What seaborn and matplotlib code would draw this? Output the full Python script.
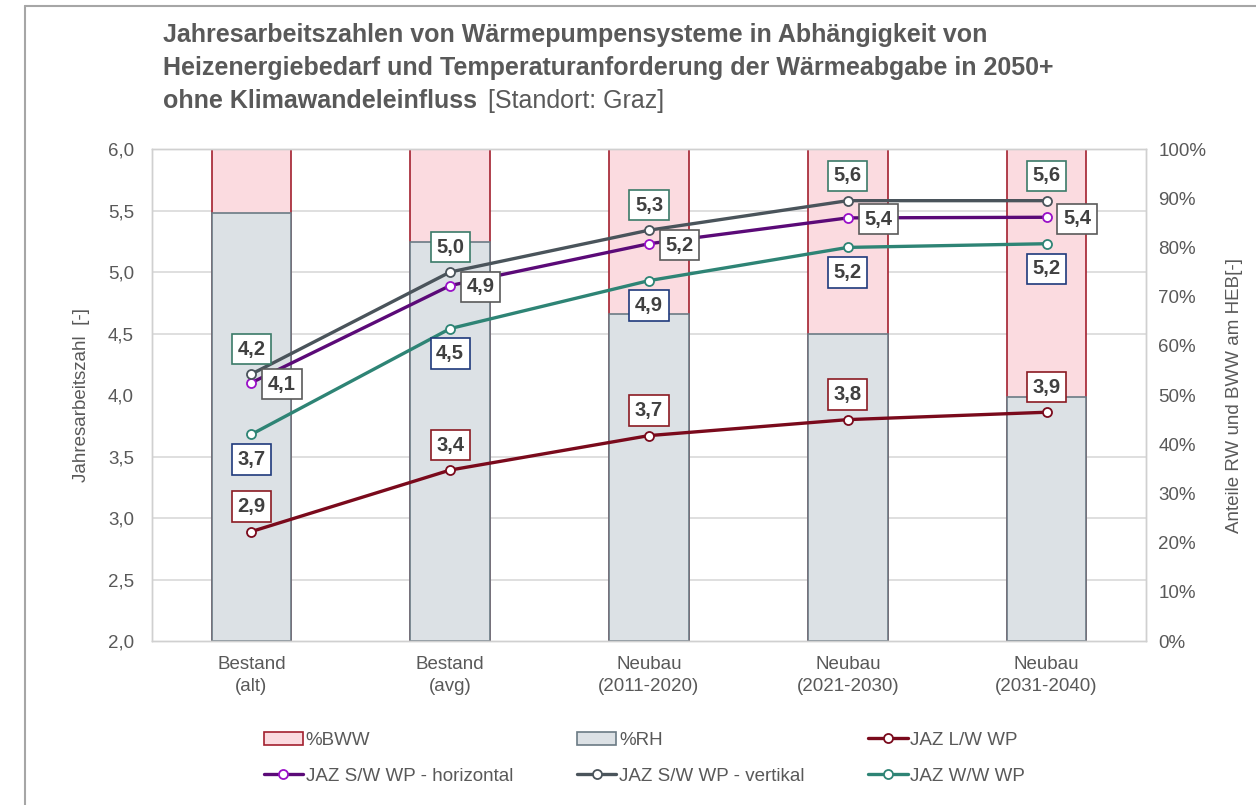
import numpy as np
import pandas as pd
import matplotlib.pyplot as plt
import seaborn as sns
from matplotlib.lines import Line2D
from matplotlib.patches import Patch
from matplotlib.ticker import FuncFormatter, PercentFormatter, MultipleLocator

sns.set_style("white")
plt.rcParams['font.family'] = ['Liberation Sans', 'DejaVu Sans']

# data
categories = ["Bestand\n(alt)", "Bestand\n(avg)", "Neubau\n(2011-2020)",
              "Neubau\n(2021-2030)", "Neubau\n(2031-2040)"]
rh_share = [87.0, 81.0, 66.5, 62.5, 49.5]      # %RH
bww_share = [13.0, 19.0, 33.5, 37.5, 50.5]     # %BWW
jaz_lw = [2.89, 3.39, 3.67, 3.80, 3.86]
jaz_sw_horizontal = [4.10, 4.89, 5.23, 5.44, 5.445]
jaz_sw_vertikal = [4.17, 5.00, 5.34, 5.58, 5.58]
jaz_ww = [3.68, 4.54, 4.93, 5.20, 5.23]

title_lines = ["Jahresarbeitszahlen von Wärmepumpensysteme in Abhängigkeit von",
               "Heizenergiebedarf und Temperaturanforderung der Wärmeabgabe in 2050+",
               "ohne Klimawandeleinfluss"]
title_note = "[Standort: Graz]"

TXT = '#595959'
LBL = '#404040'
FS = 13.5

fig = plt.figure(figsize=(12.56, 8.05), dpi=100)
ax = fig.add_axes([0.121, 0.2037, 0.7914, 0.6112])
ax2 = ax.twinx()

# stacked bars on the percent axis
bars = pd.DataFrame({'cat': categories,
                     'total': np.array(rh_share) + np.array(bww_share),
                     'rh': rh_share})
sns.barplot(data=bars, x='cat', y='total', ax=ax2, color='#fbdbe0',
            edgecolor='#a3202f', linewidth=1.2, width=0.4, saturation=1)
sns.barplot(data=bars, x='cat', y='rh', ax=ax2, color='#dce1e5',
            edgecolor='#6b7a84', linewidth=1.2, width=0.4, saturation=1)
ax2.set_ylim(0, 100)
ax2.yaxis.set_major_locator(MultipleLocator(10))
ax2.yaxis.set_major_formatter(PercentFormatter(100, decimals=0))
ax2.yaxis.set_minor_locator(MultipleLocator(12.5))
ax2.grid(True, which='minor', axis='y', color='#d9d9d9', linewidth=1.2)
ax2.set_axisbelow(True)
ax2.set_xlabel('')
ax2.set_ylabel('Anteile RW und BWW am HEB[-]', fontsize=FS, color=TXT, labelpad=14)
ax2.tick_params(axis='y', which='both', length=0, labelsize=FS, labelcolor=TXT, pad=9)

# JAZ lines on the main axis, drawn on top
ax.set_zorder(ax2.get_zorder() + 1)
ax.patch.set_visible(False)

xpos = np.arange(len(categories))
series = [
    # values, line colour, marker edge, label box edge, label offset (pt), name
    (jaz_lw, '#7a0a1c', '#7a0a1c', '#8b1a22', (0, 18), 'JAZ L/W WP'),
    (jaz_sw_horizontal, '#5b0a78', '#9a10c8', '#5a5a5a', (22, -1), 'JAZ S/W WP - horizontal'),
    (jaz_sw_vertikal, '#4a545b', '#4a545b', '#3b7a68', (0, 18), 'JAZ S/W WP - vertikal'),
    (jaz_ww, '#2e8475', '#2e8475', '#1f3a7c', (0, -18), 'JAZ W/W WP'),
]
handles_lines = {}
for vals, col, mec, boxcol, off, name in series:
    sns.lineplot(x=xpos, y=vals, ax=ax, color=col, linewidth=2.4, marker='o',
                 markersize=6.5, markerfacecolor='white', markeredgecolor=mec,
                 markeredgewidth=1.3)
    for xi, v in zip(xpos, vals):
        ax.annotate(f"{v:.1f}".replace('.', ','), (xi, v), xytext=off,
                    textcoords='offset points', ha='center', va='center',
                    fontsize=14.5, fontweight='bold', color=LBL, zorder=5,
                    bbox=dict(boxstyle='square,pad=0.28', fc='white',
                              ec=boxcol, lw=1.2))
    handles_lines[name] = Line2D([], [], color=col, linewidth=2.4, marker='o',
                                 markersize=6.5, markerfacecolor='white',
                                 markeredgecolor=mec, markeredgewidth=1.3)

ax.set_ylim(2.0, 6.0)
ax.set_xlim(-0.5, len(categories) - 0.5)
ax.yaxis.set_major_locator(MultipleLocator(0.5))
ax.yaxis.set_major_formatter(FuncFormatter(lambda v, p: f"{v:.1f}".replace('.', ',')))
ax.set_xticks(xpos)
ax.set_xticklabels(categories, linespacing=1.35)
ax.tick_params(axis='both', length=0, labelsize=FS, labelcolor=TXT)
ax.tick_params(axis='y', pad=13)
ax.tick_params(axis='x', pad=11)
ax.set_ylabel('Jahresarbeitszahl  [-]', fontsize=FS, color=TXT, labelpad=13)
ax.grid(False)
for a in (ax, ax2):
    for s in a.spines.values():
        s.set_color('#d0d0d0')
        s.set_linewidth(1.0)

# title
ys = [0.9565, 0.9155, 0.8745]
title_texts = []
for line, y in zip(title_lines, ys):
    title_texts.append(fig.text(0.1298, y, line, fontsize=18, fontweight='bold',
                                color=TXT, va='center', ha='left'))
ax.annotate(title_note, xy=(1, 0), xycoords=title_texts[-1], xytext=(8, 0),
            textcoords='offset points', fontsize=18, color=TXT,
            va='bottom', ha='left', annotation_clip=False)

# legend
h_bww = Patch(facecolor='#fbdbe0', edgecolor='#a3202f', linewidth=1.2)
h_rh = Patch(facecolor='#dce1e5', edgecolor='#6b7a84', linewidth=1.2)
handles = [h_bww, handles_lines['JAZ S/W WP - horizontal'],
           h_rh, handles_lines['JAZ S/W WP - vertikal'],
           handles_lines['JAZ L/W WP'], handles_lines['JAZ W/W WP']]
labels = ['%BWW', 'JAZ S/W WP - horizontal', '%RH', 'JAZ S/W WP - vertikal',
          'JAZ L/W WP', 'JAZ W/W WP']
leg = fig.legend(handles, labels, ncol=3, loc='upper left',
                 bbox_to_anchor=(0.1964, 0.112), frameon=False, fontsize=FS,
                 handlelength=2.1, handletextpad=0.15, columnspacing=3.4,
                 labelspacing=1.0)
for t in leg.get_texts():
    t.set_color(TXT)

# outer chart frame (left and top edges)
fig.add_artist(Line2D([25 / 1256, 25 / 1256], [0, 1 - 6 / 805],
                      transform=fig.transFigure, color='#a6a6a6', linewidth=1.5))
fig.add_artist(Line2D([25 / 1256, 1], [1 - 6 / 805, 1 - 6 / 805],
                      transform=fig.transFigure, color='#a6a6a6', linewidth=1.5))

fig.savefig('out.png', dpi=100, facecolor='white')
